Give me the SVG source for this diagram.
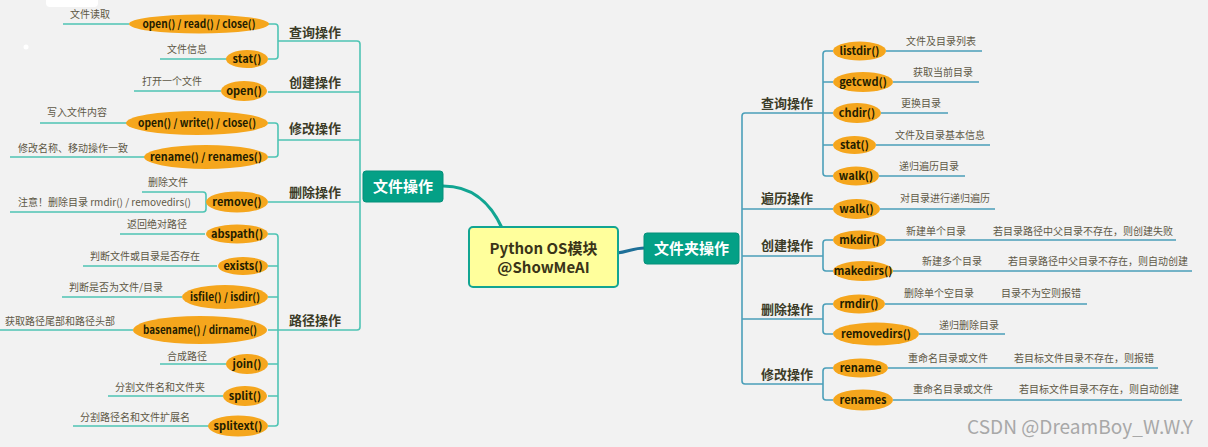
<svg xmlns="http://www.w3.org/2000/svg" width="1208" height="447" viewBox="0 0 1208 447">
<style>
text{font-family:"Noto Sans CJK SC","Noto Sans",sans-serif}
.ll{fill:none;stroke:#4fc4b4;stroke-width:1.6}
.rl{fill:none;stroke:#4b9fb9;stroke-width:1.6}
.el{fill:#f5a61d}
.et{font-size:11px;font-weight:bold;fill:#221c00;text-anchor:middle}
.lf{font-size:10px;fill:#5e5846}
.br{font-size:13px;font-weight:bold;fill:#3c3c28}
.mn{fill:#04a086;stroke:#05907a;stroke-width:1}
.mt{font-size:15px;font-weight:bold;fill:#ffffff;text-anchor:middle}
</style>
<rect width="1208" height="447" fill="#f2f2f2"/>
<rect x="46" y="-4" width="52" height="11" rx="4" fill="#ffffff"/>
<circle cx="26" cy="47" r="2.5" fill="#ffffff"/>

<g id="connectors">
  <path class="ll" d="M278,41 H357 Q360,41 360,44 V327 Q360,330 357,330 H278"/>
  <path class="ll" d="M268,92 H360 M278,140 H360 M268,202 H360"/>
  <path class="ll" d="M268,24 H275 Q278,24 278,27 V56 Q278,59 275,59 H268"/>
  <path class="ll" d="M268,123 H275 Q278,123 278,126 V154 Q278,157 275,157 H268"/>
  <path class="ll" d="M268,234 H275 Q278,234 278,237 V423 Q278,426 275,426 H268 M268,266 H278 M268,297 H278 M268,330 H278 M268,364 H278 M268,396 H278"/>
  <path class="ll" d="M63,24 H129 M160,59 H227 M134,91 H221 M40,123 H127 M10,157 H145"/>
  <path class="ll" d="M142,192 H203 Q206,192 206,195 V209 Q206,212 203,212 H10"/>
  <path class="ll" d="M120,234 H205 M83,266 H217 M62,297 H182 M0,330 H133 M160,364 H227 M108,396 H223 M73,426 H209"/>
  <path d="M443,186 C474,186 491,204 502,228" fill="none" stroke="#12a592" stroke-width="3.2"/>
  <path d="M617,253 C628,252 633,248 645,248" fill="none" stroke="#1e6f98" stroke-width="3"/>
  <path class="rl" d="M823,113 H745 Q742,113 742,116 V381 Q742,384 745,384 H823"/>
  <path class="rl" d="M742,209 H833 M742,256 H823 M742,319 H823"/>
  <path class="rl" d="M833,51 H826 Q823,51 823,54 V173 Q823,176 826,176 H833 M823,82 H833 M823,113 H833 M823,145 H833"/>
  <path class="rl" d="M833,240 H826 Q823,240 823,243 V268 Q823,271 826,271 H833"/>
  <path class="rl" d="M833,304 H826 Q823,304 823,307 V331 Q823,334 826,334 H833"/>
  <path class="rl" d="M833,368 H826 Q823,368 823,371 V397 Q823,400 826,400 H833"/>
  <path class="rl" d="M886,51 H982 M893,82 H979 M881,113 H948 M876,145 H990 M879,176 H965 M880,209 H995"/>
  <path class="rl" d="M886,240 H1176 M893,271 H1192 M885,304 H1087 M919,334 H1005 M888,368 H1158 M893,400 H1182"/>
</g>

<g id="center">
  <rect x="469" y="227" width="149" height="60" rx="4" fill="#ffff9c" stroke="#12a592" stroke-width="2"/>
  <text x="543.5" y="254" font-size="15" font-weight="bold" fill="#3a3418" text-anchor="middle">Python OS模块</text>
  <text x="543.5" y="273" font-size="15" font-weight="bold" fill="#3a3418" text-anchor="middle">@ShowMeAI</text>
</g>

<g id="file-ops">
  <rect class="mn" x="363" y="171" width="80" height="31" rx="3"/>
  <text class="mt" x="403" y="192">文件操作</text>
</g>
<g id="dir-ops">
  <rect class="mn" x="644" y="233" width="95" height="31" rx="3"/>
  <text class="mt" x="691.5" y="254">文件夹操作</text>
</g>

<g id="left-branches">
  <text class="br" x="289" y="37">查询操作</text>
  <text class="br" x="289" y="87">创建操作</text>
  <text class="br" x="289" y="133">修改操作</text>
  <text class="br" x="289" y="197">删除操作</text>
  <text class="br" x="289" y="325">路径操作</text>
</g>

<g id="left-methods">
  <ellipse class="el" cx="199" cy="24" rx="70" ry="9.5"/><text class="et" x="199" y="28" textLength="113" lengthAdjust="spacingAndGlyphs">open() / read() / close()</text>
  <ellipse class="el" cx="247" cy="59" rx="21" ry="9"/><text class="et" x="247" y="63">stat()</text>
  <ellipse class="el" cx="244" cy="91" rx="23" ry="10"/><text class="et" x="244" y="95">open()</text>
  <ellipse class="el" cx="197" cy="123" rx="71" ry="12"/><text class="et" x="197" y="127" textLength="118" lengthAdjust="spacingAndGlyphs">open() / write() / close()</text>
  <ellipse class="el" cx="206" cy="157" rx="62" ry="12"/><text class="et" x="206" y="161" textLength="112" lengthAdjust="spacingAndGlyphs">rename() / renames()</text>
  <ellipse class="el" cx="237" cy="202" rx="31" ry="10.5"/><text class="et" x="237" y="206">remove()</text>
  <ellipse class="el" cx="237" cy="234" rx="31" ry="9.5"/><text class="et" x="237" y="238">abspath()</text>
  <ellipse class="el" cx="243" cy="266" rx="25" ry="9"/><text class="et" x="243" y="270">exists()</text>
  <ellipse class="el" cx="225" cy="297" rx="43" ry="12"/><text class="et" x="225" y="301" textLength="70" lengthAdjust="spacingAndGlyphs">isfile() / isdir()</text>
  <ellipse class="el" cx="200" cy="330" rx="67" ry="14"/><text class="et" x="200" y="334" textLength="114" lengthAdjust="spacingAndGlyphs">basename() / dirname()</text>
  <ellipse class="el" cx="247" cy="364" rx="21" ry="10"/><text class="et" x="247" y="368">join()</text>
  <ellipse class="el" cx="245" cy="396" rx="22" ry="10"/><text class="et" x="245" y="400">split()</text>
  <ellipse class="el" cx="238" cy="426" rx="30" ry="10.5"/><text class="et" x="238" y="430">splitext()</text>
</g>

<g id="left-notes">
  <text class="lf" x="70" y="18">文件读取</text>
  <text class="lf" x="167" y="53">文件信息</text>
  <text class="lf" x="142" y="85">打开一个文件</text>
  <text class="lf" x="47" y="116">写入文件内容</text>
  <text class="lf" x="18" y="152">修改名称、移动操作一致</text>
  <text class="lf" x="148" y="186">删除文件</text>
  <text class="lf" x="18" y="206">注意！删除目录 rmdir() / removedirs()</text>
  <text class="lf" x="127" y="228">返回绝对路径</text>
  <text class="lf" x="90" y="260">判断文件或目录是否存在</text>
  <text class="lf" x="69" y="291">判断是否为文件/目录</text>
  <text class="lf" x="5" y="325">获取路径尾部和路径头部</text>
  <text class="lf" x="167" y="360">合成路径</text>
  <text class="lf" x="115" y="391">分割文件名和文件夹</text>
  <text class="lf" x="80" y="421">分割路径名和文件扩展名</text>
</g>

<g id="right-branches">
  <text class="br" x="761" y="108">查询操作</text>
  <text class="br" x="761" y="203">遍历操作</text>
  <text class="br" x="761" y="250">创建操作</text>
  <text class="br" x="761" y="314">删除操作</text>
  <text class="br" x="761" y="379">修改操作</text>
</g>

<g id="right-methods">
  <ellipse class="el" cx="859.5" cy="51" rx="26.5" ry="9.5"/><text class="et" x="859.5" y="55">listdir()</text>
  <ellipse class="el" cx="863" cy="82" rx="30" ry="10"/><text class="et" x="863" y="86">getcwd()</text>
  <ellipse class="el" cx="857" cy="113" rx="24" ry="10"/><text class="et" x="857" y="117">chdir()</text>
  <ellipse class="el" cx="854.5" cy="145" rx="21.5" ry="9"/><text class="et" x="854.5" y="149">stat()</text>
  <ellipse class="el" cx="856" cy="176" rx="23" ry="9.5"/><text class="et" x="856" y="180">walk()</text>
  <ellipse class="el" cx="856.5" cy="209" rx="23.5" ry="10"/><text class="et" x="856.5" y="213">walk()</text>
  <ellipse class="el" cx="859.5" cy="240" rx="26.5" ry="9.5"/><text class="et" x="859.5" y="244">mkdir()</text>
  <ellipse class="el" cx="863" cy="271" rx="30" ry="10"/><text class="et" x="863" y="275">makedirs()</text>
  <ellipse class="el" cx="859" cy="304" rx="26" ry="9.5"/><text class="et" x="859" y="308">rmdir()</text>
  <ellipse class="el" cx="876" cy="334" rx="43" ry="11.5"/><text class="et" x="876" y="338">removedirs()</text>
  <ellipse class="el" cx="860.5" cy="368" rx="27.5" ry="9.5"/><text class="et" x="860.5" y="372">rename</text>
  <ellipse class="el" cx="863" cy="400" rx="30" ry="10.5"/><text class="et" x="863" y="404">renames</text>
</g>

<g id="right-notes">
  <text class="lf" x="906" y="45">文件及目录列表</text>
  <text class="lf" x="913" y="76">获取当前目录</text>
  <text class="lf" x="901" y="107">更换目录</text>
  <text class="lf" x="895" y="139">文件及目录基本信息</text>
  <text class="lf" x="899" y="170">递归遍历目录</text>
  <text class="lf" x="900" y="202">对目录进行递归遍历</text>
  <text class="lf" x="906" y="235">新建单个目录</text>
  <text class="lf" x="993" y="235">若目录路径中父目录不存在，则创建失败</text>
  <text class="lf" x="922" y="265">新建多个目录</text>
  <text class="lf" x="1008" y="265">若目录路径中父目录不存在，则自动创建</text>
  <text class="lf" x="904" y="297">删除单个空目录</text>
  <text class="lf" x="1001" y="297">目录不为空则报错</text>
  <text class="lf" x="939" y="329">递归删除目录</text>
  <text class="lf" x="908" y="362">重命名目录或文件</text>
  <text class="lf" x="1014" y="362">若目标文件目录不存在，则报错</text>
  <text class="lf" x="913" y="393">重命名目录或文件</text>
  <text class="lf" x="1019" y="393">若目标文件目录不存在，则自动创建</text>
</g>

<text x="967" y="434" font-family="Liberation Sans, sans-serif" font-size="19" fill="#a8a8a8" textLength="226" lengthAdjust="spacingAndGlyphs">CSDN @DreamBoy_W.W.Y</text>
</svg>
